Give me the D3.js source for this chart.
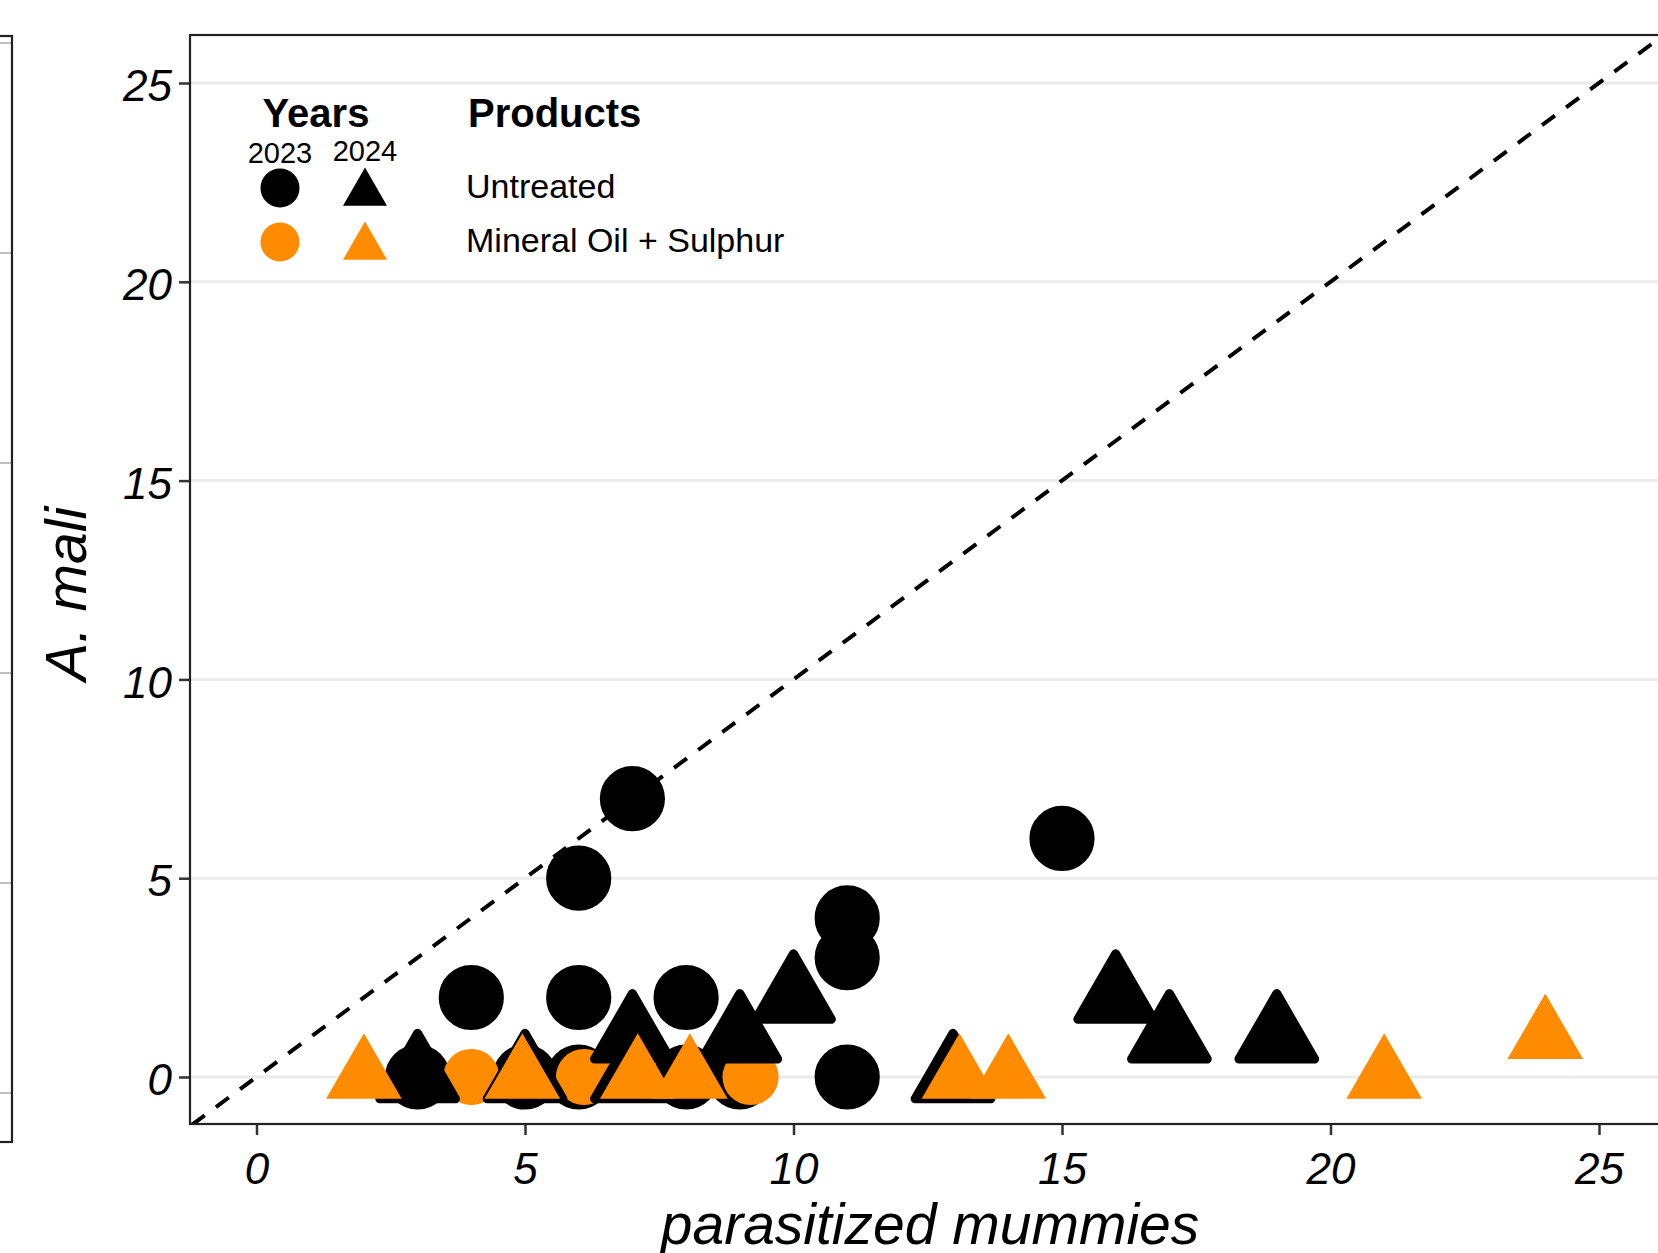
<!DOCTYPE html>
<meta charset="utf-8">
<style>
body { margin: 0; background: #fff; }
svg text { font-family: "Liberation Sans", Arial, sans-serif; fill: #000; }
.tick text { font-style: italic; font-size: 44px; }
.tick line { stroke: #333; stroke-width: 2.5px; }
</style>
<svg width="1658" height="1253"></svg>
<script src="https://cdnjs.cloudflare.com/ajax/libs/d3/7.8.5/d3.min.js"></script>
<script>

// A. mali vs parasitized mummies, [x, y] per point (small offsets = jitter)
var untreated2023 = [[3,0],[4,2],[5,0],[6,0],[6,2],[6,5],[7,7],[8,0],[8,2],[9,0],[11,0],[11,3],[11,4],[15,6]];
var treated2023   = [[4,0],[6.1,0],[9.2,0]];
var untreated2024 = [[3,0],[5,0],[7,0],[7,1],[9,1],[10,2],[12.97,0],[16,2],[17,1],[19,1]];
var treated2024   = [[2,0],[4.95,0],[7.1,0],[8.07,0],[13.09,0],[14,0],[21,0],[24,1]];

var years = ["2023", "2024"];
var products = ["Untreated", "Mineral Oil + Sulphur"];
var xTicks = [0, 5, 10, 15, 20, 25];
var yTicks = [0, 5, 10, 15, 20, 25];
var sideTicks = [0, 1, 2, 3, 4, 5];   // grid of the neighbouring panel (cut off on the left)

var svg = d3.select("svg");

var x = d3.scaleLinear().domain([0, 25]).range([256.5, 1599]);
var y = d3.scaleLinear().domain([0, 25]).range([1077, 83]);
var colour = d3.scaleOrdinal().domain(products).range(["#000000", "#ff8c00"]);
var shape = d3.scaleOrdinal().domain(years).range([d3.symbolCircle, d3.symbolTriangle]);

var panel = { left: 190, top: 35, right: 1672, bottom: 1124 };

// neighbouring panel sliver
var ySide = d3.scaleLinear().domain([0, 5]).range([1093, 43]);
svg.append("g").selectAll("line")
    .data(sideTicks)
  .enter().append("line")
    .attr("x1", -5).attr("x2", 12)
    .attr("y1", function(d) { return ySide(d); })
    .attr("y2", function(d) { return ySide(d); })
    .attr("stroke", "#aaa").attr("stroke-width", 1.5);
svg.append("rect")
    .attr("x", -20).attr("y", 36).attr("width", 32).attr("height", 1106)
    .attr("fill", "none").attr("stroke", "#222").attr("stroke-width", 2.2);

svg.append("clipPath").attr("id", "clip")
  .append("rect")
    .attr("x", panel.left).attr("y", panel.top)
    .attr("width", panel.right - panel.left).attr("height", panel.bottom - panel.top);

// grid
svg.append("g").selectAll("line")
    .data(yTicks)
  .enter().append("line")
    .attr("x1", panel.left).attr("x2", panel.right)
    .attr("y1", function(d) { return y(d); })
    .attr("y2", function(d) { return y(d); })
    .attr("stroke", "#ebebeb").attr("stroke-width", 3);

var plot = svg.append("g").attr("clip-path", "url(#clip)");

// 1:1 line
plot.append("line")
    .attr("x1", x(-3)).attr("y1", y(-3))
    .attr("x2", x(28)).attr("y2", y(28))
    .attr("stroke", "#000").attr("stroke-width", 4)
    .attr("stroke-dasharray", "16,14");

function pts(arr, year, product) {
  return arr.map(function(p) { return { x: p[0], y: p[1], year: year, product: product }; });
}

var layers = [
  pts(untreated2023, "2023", "Untreated"),
  pts(treated2023, "2023", "Mineral Oil + Sulphur"),
  pts(untreated2024, "2024", "Untreated"),
  pts(treated2024, "2024", "Mineral Oil + Sulphur")
];

layers.forEach(function(layer) {
  plot.append("g").selectAll("path")
      .data(layer)
    .enter().append("path")
      .attr("transform", function(d) { return "translate(" + x(d.x) + "," + y(d.y) + ")"; })
      .attr("d", function(d) { return d3.symbol().type(shape(d.year)).size(2480)(); })
      .attr("fill", function(d) { return colour(d.product); })
      .attr("stroke", function(d) { return d.product === "Untreated" ? "#000" : "none"; })
      .attr("stroke-width", 9)
      .attr("stroke-linejoin", "round");
});

// axes
var yAxis = svg.append("g")
    .attr("transform", "translate(" + panel.left + ",0)")
    .call(d3.axisLeft(y).tickValues(yTicks).tickSize(11).tickPadding(7));
yAxis.select(".domain").remove();
yAxis.selectAll("text").attr("dy", "0.4em");

var xAxis = svg.append("g")
    .attr("transform", "translate(0," + panel.bottom + ")")
    .call(d3.axisBottom(x).tickValues(xTicks).tickSize(11).tickPadding(18));
xAxis.select(".domain").remove();

// panel border
svg.append("rect")
    .attr("x", panel.left).attr("y", panel.top)
    .attr("width", panel.right - panel.left).attr("height", panel.bottom - panel.top)
    .attr("fill", "none").attr("stroke", "#222").attr("stroke-width", 2.2);

// axis titles
svg.append("text")
    .attr("x", 930).attr("y", 1244)
    .attr("text-anchor", "middle")
    .style("font-style", "italic").style("font-size", "57px")
    .text("parasitized mummies");

svg.append("text")
    .attr("transform", "translate(86,594) rotate(-90)")
    .attr("text-anchor", "middle")
    .style("font-style", "italic").style("font-size", "57px")
    .text("A. mali");

// legend
var legend = svg.append("g");
legend.append("text")
    .attr("x", 316).attr("y", 127).attr("text-anchor", "middle")
    .style("font-weight", "bold").style("font-size", "40px")
    .text("Years");
legend.append("text")
    .attr("x", 468).attr("y", 127)
    .style("font-weight", "bold").style("font-size", "40px")
    .text("Products");

var legendX = { "2023": 280, "2024": 365 };
var legendYearY = { "2023": 163, "2024": 160.5 };
var legendRowY = [188, 242];

legend.selectAll(".yr")
    .data(years)
  .enter().append("text")
    .attr("x", function(d) { return legendX[d]; })
    .attr("y", function(d) { return legendYearY[d]; })
    .attr("text-anchor", "middle")
    .style("font-size", "29px")
    .text(function(d) { return d; });

products.forEach(function(p, i) {
  years.forEach(function(yr) {
    var tri = yr === "2024";
    legend.append("path")
        .attr("transform", "translate(" + legendX[yr] + "," + (legendRowY[i] + (tri ? 5 : 0)) + ")")
        .attr("d", d3.symbol().type(shape(yr)).size(tri ? 838 : 1195)())
        .attr("fill", colour(p));
  });
  legend.append("text")
      .attr("x", 466).attr("y", legendRowY[i] + 10 + (i === 1 ? 0 : 0))
      .style("font-size", "34px")
      .text(p);
});

</script>
